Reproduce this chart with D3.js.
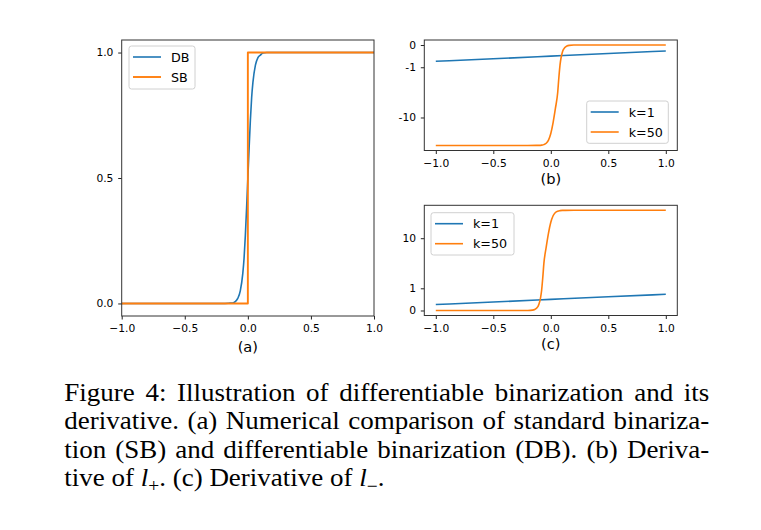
<!DOCTYPE html>
<html>
<head>
<meta charset="utf-8">
<script src="https://cdn.jsdelivr.net/npm/d3@7"></script>
<style>
  body { margin: 0; background: #fff; }
  svg { display: block; }
  .tick text { font-family: "DejaVu Sans", sans-serif; font-size: 10.7px; fill: #000; }
  .tick line { stroke: #222; }
  .cap { font-family: "Liberation Serif", "Times New Roman", serif; font-size: 25px; fill: #000; }
</style>
</head>
<body>
<div id="fig"></div>
<script>
// ---- data ----
var xTicks = [-1, -0.5, 0, 0.5, 1];
var xTickLabels = ["\u22121.0", "\u22120.5", "0.0", "0.5", "1.0"];

// (a) standard vs differentiable binarization
var aYTicks = [0, 0.5, 1];
var aYTickLabels = ["0.0", "0.5", "1.0"];
var dbX = [-1, -0.5, -0.2, -0.15, -0.12, -0.1, -0.08, -0.06, -0.04, -0.03, -0.02, -0.01, 0, 0.01, 0.02, 0.03, 0.04, 0.06, 0.08, 0.1, 0.12, 0.15, 0.2, 0.5, 1];
var dbY = [0, 0, 0, 0.001, 0.002, 0.007, 0.02, 0.05, 0.12, 0.18, 0.27, 0.38, 0.5, 0.62, 0.73, 0.82, 0.88, 0.95, 0.98, 0.99, 0.998, 1, 1, 1, 1];
var sbX = [-1, 0, 0, 1];
var sbY = [0, 0, 1, 1];

// (b) derivative of l+
var bYTicks = [0, -1, -10];
var bYTickLabels = ["0", "-1", "-10"];
var k1X = [-1, -0.5, 0, 0.5, 1];
var bK1Y = [-0.73, -0.62, -0.5, -0.38, -0.27];
var bK50X = [-1, -0.2, -0.1, -0.08, -0.06, -0.04, -0.02, 0, 0.02, 0.04, 0.06, 0.07, 0.08, 0.09, 0.1, 0.11, 0.12, 0.14, 0.16, 0.2, 0.3, 1];
var bK50Y = [-50, -50, -49.7, -49.1, -47.6, -44, -36.6, -25, -13.4, -5.96, -2.37, -1.47, -0.9, -0.55, -0.335, -0.2, -0.124, -0.045, -0.017, -0.002, 0, 0];

// (c) derivative of l-
var cYTicks = [0, 1, 10];
var cYTickLabels = ["0", "1", "10"];
var cK1Y = [0.27, 0.38, 0.5, 0.62, 0.73];
var cK50X = [-1, -0.3, -0.2, -0.16, -0.14, -0.12, -0.11, -0.1, -0.09, -0.08, -0.07, -0.06, -0.04, -0.02, 0, 0.02, 0.04, 0.06, 0.08, 0.1, 0.2, 1];
var cK50Y = [0, 0, 0.002, 0.017, 0.045, 0.124, 0.2, 0.335, 0.55, 0.9, 1.47, 2.37, 5.96, 13.4, 25, 36.6, 44, 47.6, 49.1, 49.7, 50, 50];

var BLUE = "#1f77b4", ORANGE = "#ff7f0e";

// matplotlib-like symlog (linthresh 2, linscale 1, base 10)
function symlog(v) {
  var t = 2, a = 1 / (1 - 1 / 10), m = Math.abs(v);
  return m <= t ? v / t * a : Math.sign(v) * (a + Math.log10(m / t));
}

var W = 761, H = 530;
var svg = d3.select("#fig").append("svg").attr("width", W).attr("height", H);

function zip(xs, ys) { return xs.map(function(x, i) { return [x, ys[i]]; }); }

function drawPanel(cfg) {
  var g = svg.append("g");
  var x = d3.scaleLinear().domain(cfg.xDomain).range([cfg.left, cfg.right]);
  var yLin = d3.scaleLinear().domain(cfg.yDomain).range([cfg.bottom, cfg.top]);
  var y = function(v) { return yLin(cfg.tf(v)); };

  // series
  cfg.series.forEach(function(s) {
    var line = d3.line()
      .x(function(d) { return x(d[0]); })
      .y(function(d) { return y(d[1]); })
      .curve(s.curve || d3.curveMonotoneX);
    g.append("path")
      .attr("d", line(zip(s.x, s.y)))
      .attr("fill", "none")
      .attr("stroke", s.color)
      .attr("stroke-width", s.width || 1.6)
      .attr("stroke-linejoin", "round");
  });

  // axes
  var xAxis = d3.axisBottom(x).tickValues(xTicks)
    .tickFormat(function(d, i) { return xTickLabels[i]; })
    .tickSize(3.5).tickPadding(5.3).tickSizeOuter(0);
  var gx = g.append("g").attr("transform", "translate(0," + cfg.bottom + ")").call(xAxis);
  gx.select(".domain").remove();

  var yAxis = d3.axisLeft(yLin).tickValues(cfg.yTicks.map(cfg.tf))
    .tickFormat(function(d, i) { return cfg.yTickLabels[i]; })
    .tickSize(3.5).tickPadding(4.8).tickSizeOuter(0);
  var gy = g.append("g").attr("transform", "translate(" + cfg.left + ",0)").call(yAxis);
  gy.select(".domain").remove();

  // frame
  g.append("rect")
    .attr("x", cfg.left).attr("y", cfg.top)
    .attr("width", cfg.right - cfg.left).attr("height", cfg.bottom - cfg.top)
    .attr("fill", "none").attr("stroke", "#333").attr("stroke-width", 1);

  // legend
  var L = cfg.legend;
  var lg = g.append("g");
  lg.append("rect")
    .attr("x", L.x).attr("y", L.y).attr("width", L.w).attr("height", L.h)
    .attr("rx", 2.5).attr("fill", "#fff").attr("fill-opacity", 0.8)
    .attr("stroke", "#d0d0d0").attr("stroke-width", 1);
  cfg.series.forEach(function(s, i) {
    var yy = L.y + 11 + i * 20;
    lg.append("line")
      .attr("x1", L.x + 4).attr("x2", L.x + 32)
      .attr("y1", yy).attr("y2", yy)
      .attr("stroke", s.color).attr("stroke-width", s.width || 1.6);
    lg.append("text")
      .attr("x", L.x + 42).attr("y", yy).attr("dy", "0.36em")
      .attr("font-family", "DejaVu Sans, sans-serif").attr("font-size", 12.7)
      .text(s.name);
  });

  // sub caption
  g.append("text")
    .attr("x", (cfg.left + cfg.right) / 2).attr("y", cfg.capY)
    .attr("text-anchor", "middle")
    .attr("font-family", "DejaVu Sans, sans-serif").attr("font-size", 14.6)
    .text(cfg.caption);
}

function padded(vals, tf, m) {
  var e = d3.extent(vals.map(tf));
  var p = (e[1] - e[0]) * m;
  return [e[0] - p, e[1] + p];
}

var ident = function(v) { return v; };

drawPanel({
  left: 121.7, right: 374, top: 40, bottom: 316,
  xDomain: [-1, 1],
  yDomain: padded(dbY.concat(sbY), ident, 0.05), tf: ident,
  yTicks: aYTicks, yTickLabels: aYTickLabels,
  series: [
    { name: "DB", x: dbX, y: dbY, color: BLUE },
    { name: "SB", x: sbX, y: sbY, color: ORANGE, curve: d3.curveLinear, width: 1.9 }
  ],
  legend: { x: 129, y: 46, w: 66, h: 43 },
  caption: "(a)", capY: 351.5
});

drawPanel({
  left: 424.3, right: 677.3, top: 40, bottom: 150.5,
  xDomain: [-1.1, 1.1],
  yDomain: padded(bK1Y.concat(bK50Y), symlog, 0.05), tf: symlog,
  yTicks: bYTicks, yTickLabels: bYTickLabels,
  series: [
    { name: "k=1", x: k1X, y: bK1Y, color: BLUE },
    { name: "k=50", x: bK50X, y: bK50Y, color: ORANGE }
  ],
  legend: { x: 586.7, y: 101, w: 81.6, h: 42.3 },
  caption: "(b)", capY: 184
});

drawPanel({
  left: 424.3, right: 677.3, top: 205.3, bottom: 315.5,
  xDomain: [-1.1, 1.1],
  yDomain: padded(cK1Y.concat(cK50Y), symlog, 0.05), tf: symlog,
  yTicks: cYTicks, yTickLabels: cYTickLabels,
  series: [
    { name: "k=1", x: k1X, y: cK1Y, color: BLUE },
    { name: "k=50", x: cK50X, y: cK50Y, color: ORANGE }
  ],
  legend: { x: 431, y: 212.7, w: 83, h: 42.3 },
  caption: "(c)", capY: 349
});

// ---- figure caption (justified like the LaTeX source) ----
var capLines = [
  "Figure 4: Illustration of differentiable binarization and its",
  "derivative. (a) Numerical comparison of standard binariza-",
  "tion (SB) and differentiable binarization (DB). (b) Deriva-"
];
var capX = 64.3, capW = 645, capY0 = 401, capDy = 28.5, sx = 1.08;
var cap = svg.append("g").attr("class", "cap")
  .attr("transform", "translate(" + capX + ",0) scale(" + sx + ",1)");
capLines.forEach(function(t, i) {
  var txt = cap.append("text").attr("x", 0).attr("y", capY0 + i * capDy).text(t);
  var natural = txt.node().getComputedTextLength();
  var gaps = t.split(" ").length - 1;
  var extra = (capW / sx - natural) / gaps;
  txt.attr("word-spacing", extra);
});
var last = cap.append("text").attr("x", 0).attr("y", capY0 + 3 * capDy);
last.append("tspan").text("tive of ");
last.append("tspan").attr("font-style", "italic").text("l");
last.append("tspan").attr("font-size", 18).attr("dy", 5.5).text("+");
last.append("tspan").attr("dy", -5.5).text(". (c) Derivative of ");
last.append("tspan").attr("font-style", "italic").text("l");
last.append("tspan").attr("font-size", 18).attr("dy", 5.5).text("\u2212");
last.append("tspan").attr("dy", -5.5).text(".");
</script>
</body>
</html>
